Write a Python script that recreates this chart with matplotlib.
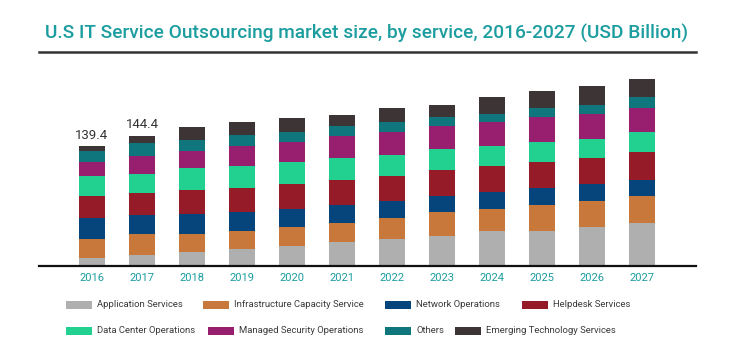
import matplotlib
matplotlib.use("Agg")
import matplotlib.pyplot as plt
from matplotlib.patches import Rectangle
from matplotlib.lines import Line2D
import numpy as np

plt.rcParams['font.family'] = ['Roboto', 'DejaVu Sans']

# data (USD Billion)
years = ['2016', '2017', '2018', '2019', '2020', '2021', '2022', '2023', '2024', '2025', '2026', '2027']
series_names = ['Application Services', 'Infrastructure Capacity Service', 'Network Operations',
                'Helpdesk Services', 'Data Center Operations', 'Managed Security Operations',
                'Others', 'Emerging Technology Services']
application = [9.3, 12.4, 15.9, 19.4, 22.9, 27.5, 31.4, 34.9, 40.7, 40.7, 45.3, 50.0]
infrastructure = [22.1, 24.7, 20.9, 20.9, 22.1, 22.1, 24.4, 27.9, 25.6, 30.2, 30.2, 31.4]
network = [24.4, 21.7, 23.6, 22.1, 20.9, 20.9, 19.7, 18.6, 20.1, 20.1, 19.7, 18.6]
helpdesk = [25.2, 25.6, 27.5, 27.9, 29.0, 29.0, 29.0, 30.2, 29.9, 29.9, 30.2, 32.5]
data_center = [23.6, 23.2, 25.6, 25.6, 25.6, 25.6, 24.4, 24.4, 23.2, 23.2, 22.1, 23.2]
managed_security = [16.3, 20.9, 19.7, 23.2, 23.2, 26.7, 26.7, 26.7, 27.9, 29.0, 29.0, 27.9]
others = [12.4, 15.1, 13.9, 12.8, 11.6, 10.5, 11.6, 10.5, 9.3, 10.5, 10.5, 12.8]
emerging = [6.2, 8.1, 15.1, 15.1, 17.4, 13.9, 16.3, 13.9, 19.7, 19.7, 22.1, 20.9]
total_labels = ['139.4', '144.4']

colors = ['#b0afb0', '#c8783b', '#05457c', '#951b28', '#22d18f', '#981f6f', '#0f767d', '#3d3535']
teal = '#1c9d9f'

series = [application, infrastructure, network, helpdesk, data_center, managed_security, others, emerging]

fig = plt.figure(figsize=(7.34, 3.57), dpi=100)
W, H = 734, 357
ax = fig.add_axes([39 / W, 1 - 266 / H, (696 - 39) / W, 196 / H])

x = np.arange(len(years))
bottom = np.zeros(len(years))
for vals, c, name in zip(series, colors, series_names):
    ax.bar(x, vals, width=0.52, bottom=bottom, color=c, label=name, linewidth=0)
    bottom += np.array(vals)

for i, lab in enumerate(total_labels):
    ax.text(x[i], bottom[i] + 5, lab, ha='center', va='bottom', fontsize=9.5, color='#333333')

ax.set_xlim(-1.06, 12.08)
ax.set_ylim(0, 228)
ax.set_xticks(x)
ax.set_xticklabels(years, fontsize=8, color=teal)
ax.tick_params(axis='x', length=0, pad=5)
ax.set_yticks([])
for s in ['top', 'right', 'left']:
    ax.spines[s].set_visible(False)
ax.spines['bottom'].set_linewidth(1.6)
ax.spines['bottom'].set_color('#111111')

# title and rule
fig.text(0.5, 1 - 33 / H, 'U.S IT Service Outsourcing market size, by service, 2016-2027 (USD Billion)',
         ha='center', va='center', fontsize=13.8, fontweight='medium', color=teal)
fig.add_artist(Line2D([39 / W, 696 / W], [1 - 52.3 / H, 1 - 52.3 / H], color='#333333', linewidth=1.8))

# legend, two rows laid out like the original
legend_pos = [(66, 304.7), (203, 304.7), (385, 304.7), (522, 304.7),
              (66, 330.7), (208, 330.7), (385, 330.7), (455, 330.7)]
for (px, py), c, name in zip(legend_pos, colors, series_names):
    fig.add_artist(Rectangle((px / W, 1 - (py + 3.8) / H), 26 / W, 7.6 / H,
                             transform=fig.transFigure, color=c, linewidth=0))
    fig.text((px + 31) / W, 1 - py / H, name, ha='left', va='center', fontsize=6.8, color='#3a3a3a')

fig.savefig('out.png', dpi=100)
